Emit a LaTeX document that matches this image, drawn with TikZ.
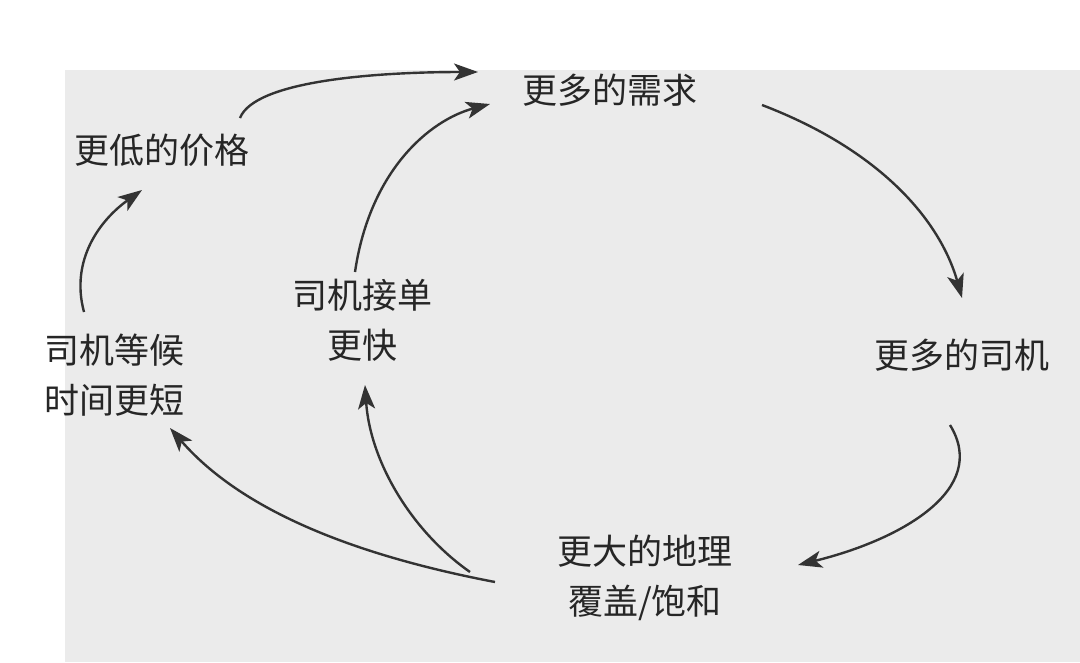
\documentclass[tikz,border=0pt]{standalone}
\usepackage{fontspec}
\newfontfamily\cjk{Noto Sans CJK SC}
\usetikzlibrary{arrows.meta}
\tikzset{
  lbl/.style={font=\cjk\fontsize{35}{50}\selectfont,text=black!85,align=center,inner sep=2pt},
  loop/.style={-{Stealth[length=24pt,width=17pt,inset=6pt]},line width=2.4pt,draw=black!80}
}
\begin{document}
\begin{tikzpicture}[x=1pt,y=-1pt]
\useasboundingbox (0,0) rectangle (1080,662);
\fill[white] (0,0) rectangle (1080,662);
\fill[black!8] (65,70) rectangle (1080,662);
\node[lbl] (price) at (162,150) {更低的价格};
\node[lbl] (demand) at (610,90) {更多的需求};
\node[lbl] (drivers) at (962,355) {更多的司机};
\node[lbl] (cover) at (645,578) {更大的地理\\覆盖/饱和};
\node[lbl] (faster) at (362,320) {司机接单\\更快};
\node[lbl] (wait) at (115,375) {司机等候\\时间更短};
\coordinate (p1) at (240,118);
\coordinate (d1) at (478,72);
\coordinate (f1) at (355,272);
\coordinate (d2) at (490,104);
\coordinate (d3) at (762,105);
\coordinate (r1) at (962,298);
\coordinate (r2) at (950,425);
\coordinate (c1) at (798,565);
\coordinate (c2) at (495,582);
\coordinate (w1) at (170,428);
\coordinate (c3) at (470,572);
\coordinate (f2) at (365,385);
\coordinate (w2) at (84,312);
\coordinate (p2) at (142,190);
\draw[loop] (p1) .. controls (255,80) and (380,72) .. (d1);
\draw[loop] (f1) .. controls (370,170) and (430,120) .. (d2);
\draw[loop] (d3) .. controls (880,150) and (940,220) .. (r1);
\draw[loop] (r2) .. controls (990,490) and (900,540) .. (c1);
\draw[loop] (c2) .. controls (380,560) and (250,520) .. (w1);
\draw[loop] (c3) .. controls (410,530) and (370,460) .. (f2);
\draw[loop] (w2) .. controls (70,260) and (100,220) .. (p2);
\end{tikzpicture}
\end{document}
